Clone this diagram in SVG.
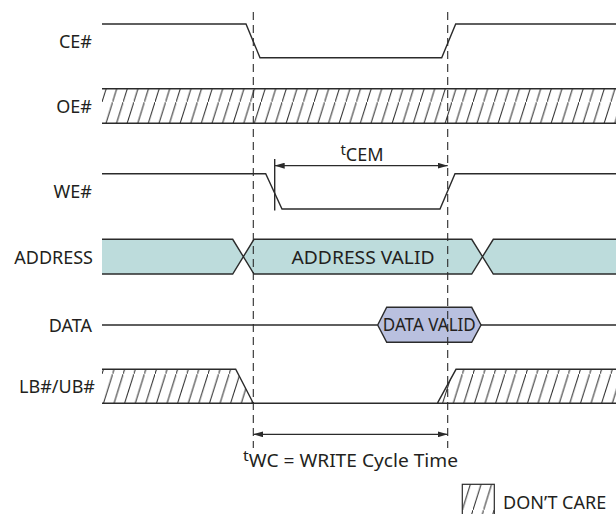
<svg xmlns="http://www.w3.org/2000/svg" width="616" height="514" viewBox="0 0 616 514">
<style>
  .sig{fill:none;stroke:#2b2b2b;stroke-width:1.4}
  .dash{fill:none;stroke:#2b2b2b;stroke-width:1.1;stroke-dasharray:8 5}
  .lbl{font-family:"Noto Sans","Liberation Sans",Arial,sans-serif;font-size:18px;fill:#231f20;text-anchor:end}
  .txt{font-family:"Noto Sans","Liberation Sans",Arial,sans-serif;font-size:18px;fill:#231f20}
  .hatch{fill:url(#hatch);stroke:none}
  .arr{fill:none;stroke:#2b2b2b;stroke-width:1.3}
</style>
<defs>
  <pattern id="hatch" patternUnits="userSpaceOnUse" width="10.6" height="34" x="102" y="0">
    <rect width="10.6" height="34" fill="#fff"/>
    <path d="M-1,37.2 L11.6,-3.2" stroke="#2b2b2b" stroke-width="1"/>
  </pattern>
  <marker id="ah" viewBox="0 0 10 6" refX="10" refY="3" markerWidth="10" markerHeight="6" markerUnits="userSpaceOnUse" orient="auto-start-reverse">
    <path d="M0,0 L10,3 L0,6 z" fill="#2b2b2b"/>
  </marker>
</defs>
<rect width="616" height="514" fill="#fff"/>

<g id="labels">
  <text class="lbl" x="92" y="48">CE#</text>
  <text class="lbl" x="92" y="113">OE#</text>
  <text class="lbl" x="92" y="198">WE#</text>
  <text class="lbl" x="93" y="263.5">ADDRESS</text>
  <text class="lbl" x="92" y="331.5">DATA</text>
  <text class="lbl" x="95" y="393">LB#/UB#</text>
</g>

<g id="ce">
  <path class="sig" d="M102,24 H246 L260,57.7 H441.7 L455.7,24 H616"/>
</g>

<g id="oe">
  <rect class="hatch" x="102" y="88.7" width="514" height="34.6"/>
  <path class="sig" d="M102,88.7 H616 M102,123.3 H616"/>
</g>

<g id="we">
  <path class="sig" d="M102,173.7 H265.7 L282,209 H440 L455,173.7 H616"/>
</g>

<g id="address">
  <path d="M102,239.3 H232.7 L243.3,256.7 L232.7,274 H102 z" fill="#bddcdc"/>
  <path d="M243.3,256.7 L254,239.3 H471.7 L482.5,256.7 L471.7,274 H254 z" fill="#bddcdc"/>
  <path d="M482.5,256.7 L493.3,239.3 H616 V274 H493.3 z" fill="#bddcdc"/>
  <path class="sig" d="M102,239.3 H232.7 L254,274 H471.7 L493.3,239.3 H616 M102,274 H232.7 L254,239.3 H471.7 L493.3,274 H616"/>
  <text class="txt" x="363" y="263.5" text-anchor="middle" textLength="143" lengthAdjust="spacingAndGlyphs">ADDRESS VALID</text>
</g>

<g id="data">
  <path class="sig" d="M102,325 H377.7 M481,325 H616"/>
  <path d="M377.7,325 L386.7,307.3 H471.7 L481,325 L471.7,342.3 H386.7 z" fill="#b9c0df" stroke="#2b2b2b" stroke-width="1.4"/>
  <text class="txt" x="429.3" y="330.5" text-anchor="middle" font-size="16" textLength="93" lengthAdjust="spacingAndGlyphs">DATA VALID</text>
</g>

<g id="lbub">
  <path class="hatch" d="M102,369.3 H235.7 L253.3,403.3 H102 z"/>
  <path class="hatch" d="M437.3,403.3 L456,369.3 H616 V403.3 z"/>
  <path class="sig" d="M102,369.3 H235.7 L253.3,403.3 M102,403.3 H616 M437.3,403.3 L456,369.3 H616"/>
</g>

<g id="connectors">
  <path class="dash" d="M253.3,12 V448"/>
  <path class="dash" d="M447.7,12 V448"/>
  <path class="sig" d="M274.7,159 V210.5"/>
  <path class="arr" d="M274.7,165.7 H447.7" marker-start="url(#ah)" marker-end="url(#ah)"/>
  <path class="arr" d="M253.3,434.3 H447.7" marker-start="url(#ah)" marker-end="url(#ah)"/>
</g>

<g id="tcem">
  <text class="txt" x="362" y="161" text-anchor="middle"><tspan font-size="15" dy="-6">t</tspan><tspan dy="6">CEM</tspan></text>
</g>

<g id="twc">
  <text class="txt" x="350.5" y="466.5" text-anchor="middle" textLength="215" lengthAdjust="spacingAndGlyphs"><tspan font-size="15" dy="-6">t</tspan><tspan dy="6">WC = WRITE Cycle Time</tspan></text>
</g>

<g id="legend">
  <rect class="hatch" x="462.3" y="484.3" width="32" height="30"/>
  <rect x="462.3" y="484.3" width="32" height="32" fill="none" stroke="#2b2b2b" stroke-width="1.2"/>
  <text class="txt" x="503" y="508.5" font-size="18">DON’T CARE</text>
</g>
</svg>
